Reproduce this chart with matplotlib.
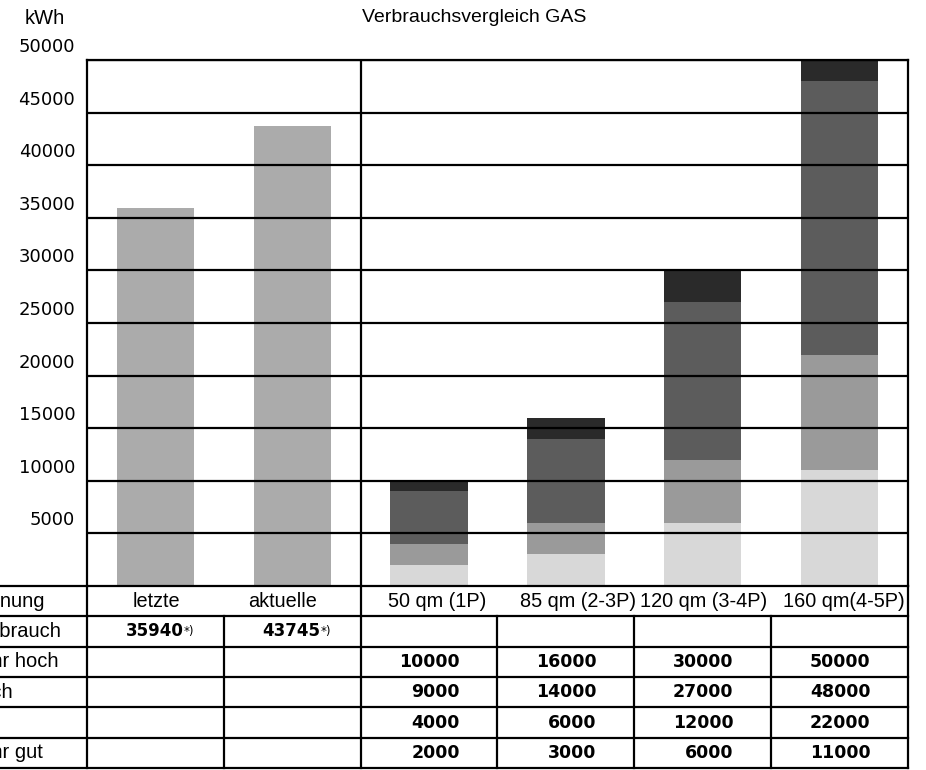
import matplotlib.pyplot as plt
from matplotlib.transforms import ScaledTranslation

# Daten
columns = ["letzte", "aktuelle", "50 qm (1P)", "85 qm (2-3P)", "120 qm (3-4P)", "160 qm(4-5P)"]
verbrauch = [35940, 43745]
sehr_hoch = [10000, 16000, 30000, 50000]
hoch = [9000, 14000, 27000, 48000]
gut = [4000, 6000, 12000, 22000]
sehr_gut = [2000, 3000, 6000, 11000]
row_labels = ["Abrechnung", "Verbrauch", "sehr hoch", "hoch", "gut", "sehr gut"]
y_ticks = [5000, 10000, 15000, 20000, 25000, 30000, 35000, 40000, 45000, 50000]

W, H = 926, 770
COL = 136.83  # Pixel je Spalte


def px2x(px):
    return (px - 87) / COL - 0.5


fig = plt.figure(figsize=(W / 100, H / 100), dpi=100)
fig.patch.set_facecolor("white")

ax = fig.add_axes([87 / W, 184 / H, 821 / W, 526 / H])
ax.set_xlim(-0.5, 5.5)
ax.set_ylim(0, 50000)
for s in ax.spines.values():
    s.set_linewidth(1.6)
ax.spines["bottom"].set_visible(False)
ax.set_xticks([])

bw = 0.565
# letzte / aktuelle Abrechnung
ax.bar([0, 1], verbrauch, width=bw, color="#ababab", zorder=1)

# Vergleichswerte als Stapel
xs = [2, 3, 4, 5]
shades = ["#d8d8d8", "#9a9a9a", "#5c5c5c", "#2a2a2a"]
bottoms = [0] * 4
for level, col in zip([sehr_gut, gut, hoch, sehr_hoch], shades):
    heights = [lv - b for lv, b in zip(level, bottoms)]
    ax.bar(xs, heights, bottom=bottoms, width=bw, color=col, zorder=1)
    bottoms = level

for v in y_ticks:
    ax.axhline(v, color="black", lw=1.6, zorder=3)
ax.axvline(1.5, color="black", lw=1.6, zorder=3)

ax.set_yticks(y_ticks)
ax.set_yticklabels([str(v) for v in y_ticks], fontsize=13, family="DejaVu Sans")
ax.tick_params(axis="y", length=0, pad=8.5)
off = ScaledTranslation(0, 15 / 100, fig.dpi_scale_trans)
for lab in ax.get_yticklabels():
    lab.set_transform(lab.get_transform() + off)

fig.text(45 / W, 1 - 18 / H, "kWh", ha="center", va="center", fontsize=14.5, family="Liberation Sans")
fig.text(362 / W, 1 - 18 / H, "Verbrauchsvergleich GAS", ha="left", va="center",
         fontsize=14, family="Liberation Sans")

# Tabelle
tx = fig.add_axes([87 / W, 2 / H, 821 / W, 182 / H])
tx.set_xlim(-0.5, 5.5)
tx.set_ylim(6, 0)
tx.axis("off")
left = px2x(-10)
for r in range(7):
    tx.plot([left, 5.5], [r, r], color="black", lw=1.6, clip_on=False)
for x in [-0.5, 1.5, 5.5]:
    tx.plot([x, x], [0, 6], color="black", lw=1.6, clip_on=False)
for x in [0.5, 2.5, 3.5, 4.5]:
    tx.plot([x, x], [1, 6], color="black", lw=1.6, clip_on=False)

for r, name in enumerate(row_labels):
    x = px2x(-30) if r > 0 else px2x(-63)
    tx.text(x, r + 0.5, name, ha="left", va="center", fontsize=14.5,
            family="Liberation Sans", clip_on=False)

head_px = [156, 283, 437, 578, 704, 844]
for name, hp in zip(columns, head_px):
    tx.text(px2x(hp), 0.5, name, ha="center", va="center", fontsize=14.3,
            family="Liberation Sans", clip_on=False)

for i, v in enumerate(verbrauch):
    tx.text(i + 0.205, 1.5, str(v), ha="right", va="center", fontsize=12,
            fontweight="bold", family="DejaVu Sans")
    tx.text(i + 0.205, 1.5, "*)", ha="left", va="center", fontsize=8.5, family="DejaVu Sans")

for r, vals in enumerate([sehr_hoch, hoch, gut, sehr_gut], start=2):
    for x, v in zip(xs, vals):
        tx.text(x + 0.225, r + 0.5, str(v), ha="right", va="center", fontsize=12.5,
                fontweight="bold", family="DejaVu Sans")

fig.savefig("out.png", dpi=100)
